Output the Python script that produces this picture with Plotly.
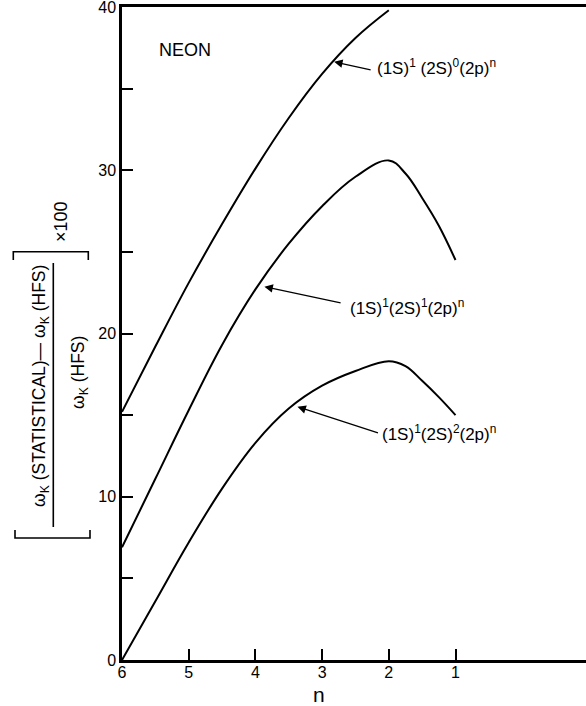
import plotly.graph_objects as go

# ---------------- data ----------------
n_ticks = [6, 5, 4, 3, 2, 1]
y_tickvals = [0, 5, 10, 15, 20, 25, 30, 35, 40]
y_ticktext = ["0", "", "10", "", "20", "", "30", "", "40"]

n_top = [6, 5.5, 5, 4.5, 4, 3.5, 3, 2.5, 2]
w_top = [15.2, 19.2, 23.1, 26.7, 30.1, 33.2, 35.9, 38.1, 39.8]

n_mid = [6, 5.5, 5, 4.5, 4, 3.5, 3, 2.5, 2, 1.75, 1.5, 1.25, 1]
w_mid = [6.9, 11.1, 15.3, 19.3, 22.7, 25.5, 27.8, 29.6, 30.6, 29.8, 28.3, 26.6, 24.5]

n_bot = [6, 5.5, 5, 4.5, 4, 3.5, 3, 2.5, 2, 1.75, 1.5, 1.25, 1]
w_bot = [0.0, 3.6, 7.2, 10.5, 13.3, 15.4, 16.8, 17.7, 18.3, 18.0, 17.1, 16.1, 15.0]

lab_top = "(1S)<sup>1</sup> (2S)<sup>0</sup>(2p)<sup>n</sup>"
lab_mid = "(1S)<sup>1</sup>(2S)<sup>1</sup>(2p)<sup>n</sup>"
lab_bot = "(1S)<sup>1</sup>(2S)<sup>2</sup>(2p)<sup>n</sup>"

# ---------------- layout geometry ----------------
W, H = 586, 706
L, R, T, B = 122, 0, 7, 46
PW, PH = W - L - R, H - T - B
FONT = "Liberation Sans"


def px(x):
    return (x - L) / PW


def py(y):
    return (H - B - y) / PH


fig = go.Figure()
for xs, ys in [(n_top, w_top), (n_mid, w_mid), (n_bot, w_bot)]:
    fig.add_trace(go.Scatter(x=xs, y=ys, mode="lines",
                             line=dict(color="black", width=2, shape="spline", smoothing=1.1),
                             showlegend=False, hoverinfo="skip"))

ann = []
# curve labels
for txt, x0, y0 in [(lab_top, 2.21, 36.3), (lab_mid, 2.61, 21.6), (lab_bot, 2.13, 13.9)]:
    ann.append(dict(x=x0, y=y0, xref="x", yref="y", text=txt, showarrow=False,
                    xanchor="left", yanchor="middle",
                    font=dict(family=FONT, size=17, color="black")))
# arrows
for tip, tail in [((2.82, 36.64), (2.25, 36.13)),
                  ((3.865, 22.87), (2.70, 21.86)),
                  ((3.37, 15.51), (2.14, 13.88))]:
    ann.append(dict(x=tip[0], y=tip[1], ax=tail[0], ay=tail[1], xref="x", yref="y",
                    axref="x", ayref="y", text="", showarrow=True, arrowhead=2,
                    arrowsize=1.3, arrowwidth=1.3, arrowcolor="black", standoff=0))
# NEON
ann.append(dict(x=5.475, y=37.35, xref="x", yref="y", text="NEON", showarrow=False,
                xanchor="left", yanchor="middle", font=dict(family=FONT, size=18, color="black")))
# x-axis title
ann.append(dict(x=px(318.7), y=py(694), xref="paper", yref="paper", text="n", showarrow=False,
                xanchor="center", yanchor="middle", font=dict(family=FONT, size=21, color="black")))
# y-axis title pieces (rotated)
ann.append(dict(x=px(40), y=py(386), xref="paper", yref="paper",
                text="ω<sub>K</sub> (STATISTICAL)— ω<sub>K</sub> (HFS)", textangle=-90,
                showarrow=False, xanchor="center", yanchor="middle",
                font=dict(family=FONT, size=17.5, color="black")))
ann.append(dict(x=px(79), y=py(373), xref="paper", yref="paper",
                text="ω<sub>K</sub> (HFS)", textangle=-90,
                showarrow=False, xanchor="center", yanchor="middle",
                font=dict(family=FONT, size=17.5, color="black")))
ann.append(dict(x=px(61), y=py(222), xref="paper", yref="paper",
                text="×100", textangle=-90,
                showarrow=False, xanchor="center", yanchor="middle",
                font=dict(family=FONT, size=18, color="black")))

shapes = []


def path(points):
    return "M " + " L ".join(f"{px(a):.5f},{py(b):.5f}" for a, b in points)


shapes.append(dict(type="path", xref="paper", yref="paper",
                   path=path([(13.3, 260), (13.3, 251.7), (88.3, 251.7), (88.3, 260)]),
                   line=dict(color="black", width=1.6)))
shapes.append(dict(type="path", xref="paper", yref="paper",
                   path=path([(15, 530), (15, 538), (90, 538), (90, 530)]),
                   line=dict(color="black", width=1.6)))
shapes.append(dict(type="line", xref="paper", yref="paper",
                   x0=px(53.3), x1=px(53.3), y0=py(263), y1=py(527),
                   line=dict(color="black", width=1.6)))

fig.update_layout(
    width=W, height=H, margin=dict(l=L, r=R, t=T, b=B, pad=0),
    paper_bgcolor="white", plot_bgcolor="white",
    annotations=ann, shapes=shapes,
    xaxis=dict(range=[6, 6 - PW / 66.7], tickvals=n_ticks, ticktext=[str(v) for v in n_ticks],
               ticks="inside", ticklen=11, tickwidth=1.5, tickcolor="black",
               showline=True, linecolor="black", linewidth=2.5, mirror=True,
               showgrid=False, zeroline=False, ticklabelstandoff=-4,
               ticklabeloverflow="allow",
               tickfont=dict(family=FONT, size=16, color="black")),
    yaxis=dict(range=[0, 40], tickvals=y_tickvals, ticktext=y_ticktext,
               ticks="inside", ticklen=11, tickwidth=1.5, tickcolor="black",
               showline=True, linecolor="black", linewidth=2.5,
               showgrid=False, zeroline=False, ticklabeloverflow="allow",
               tickfont=dict(family=FONT, size=16, color="black")),
)

fig.write_html("out.html")
